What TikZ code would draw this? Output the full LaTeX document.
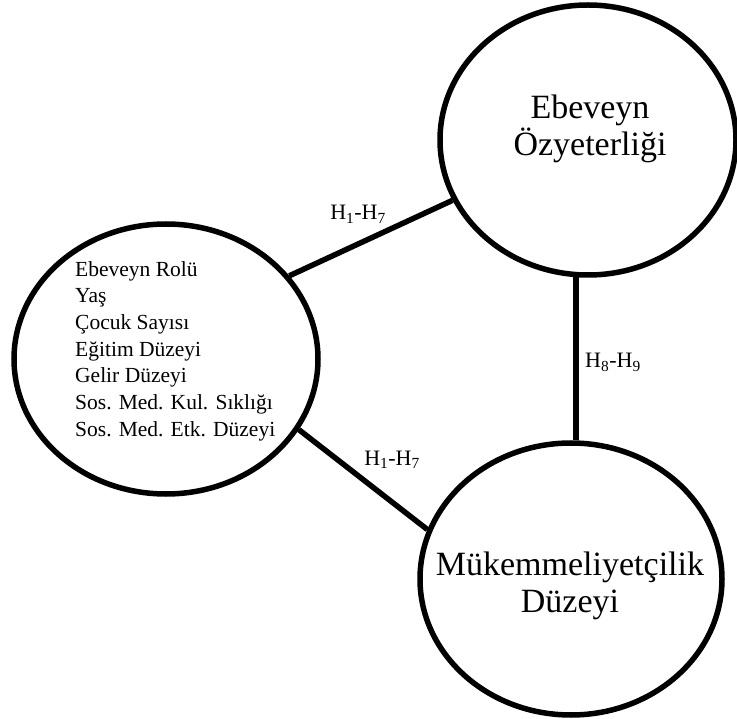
\documentclass[tikz,border=0pt]{standalone}
\usepackage{fontspec}
\setmainfont{Liberation Serif}
\usetikzlibrary{shapes.geometric}

\begin{document}
\begin{tikzpicture}[x=1pt,y=-1pt,
  konu/.style={draw=black, line width=5.5pt, ellipse, inner sep=0pt},
  bag/.style={black, line width=5.5pt},
  buyuk/.style={inner sep=0pt, align=center, font=\fontsize{34}{37}\selectfont},
  etiket/.style={inner sep=0pt, font=\fontsize{22}{24}\selectfont}]
\useasboundingbox (0,0) rectangle (737,719);
% the three variables
\node[konu, minimum width=304pt, minimum height=270pt] (demo) at (166,359) {};
\node[konu, minimum width=296pt, minimum height=270pt] (oz) at (588,140) {};
\node[konu, minimum width=302pt, minimum height=272pt] (muk) at (571,579) {};
\node[inner sep=0pt, anchor=north west, align=left, font=\fontsize{21.5}{26.7}\selectfont] (demotext) at (75,261)
  {Ebeveyn Rolü\\Yaş\\Çocuk Sayısı\\Eğitim Düzeyi\\Gelir Düzeyi\\Sos. Med. Kul. Sıklığı\\Sos. Med. Etk. Düzeyi};
\node[buyuk] (oztext) at (590,129) {Ebeveyn\\Özyeterliği};
\node[buyuk] (muktext) at (570,586) {Mükemmeliyetçilik\\Düzeyi};
% connectors
\draw[bag] (demo.34) -- (oz.204);
\draw[bag] (demo.-28.6) -- (muk.161.6);
\draw[bag] (oz.265) -- (oz.265 |- muk.north);
\node[etiket, anchor=base] (h17a) at (358,220) {H\textsubscript{1}-H\textsubscript{7}};
\node[etiket, anchor=base] (h17b) at (392,465) {H\textsubscript{1}-H\textsubscript{7}};
\node[etiket, anchor=base west] (h89) at (585,368) {H\textsubscript{8}-H\textsubscript{9}};
\end{tikzpicture}
\end{document}
